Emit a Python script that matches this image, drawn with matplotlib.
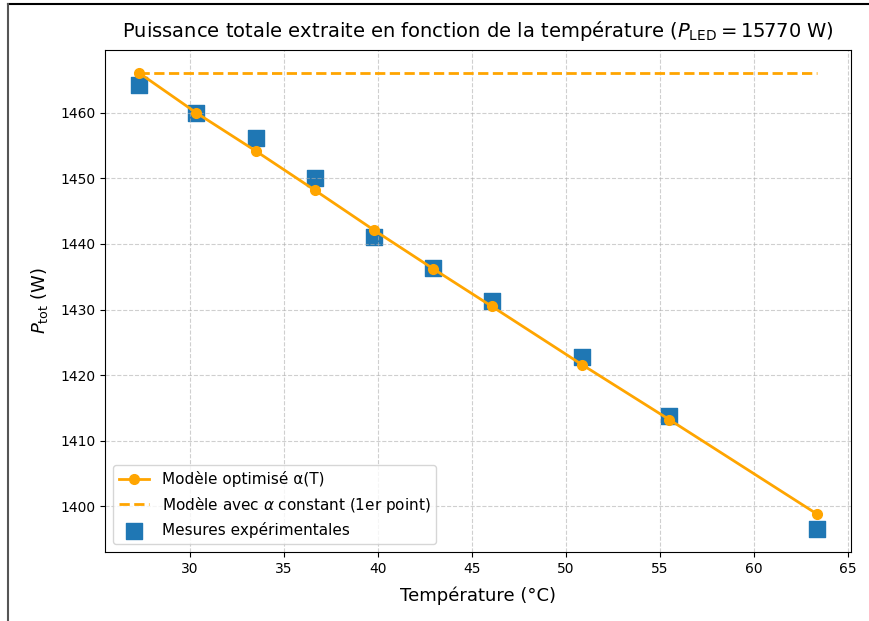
import matplotlib
matplotlib.use("Agg")
import matplotlib.pyplot as plt
from matplotlib.lines import Line2D

temperatures = [27.3, 30.35, 33.5, 36.65, 39.8, 42.95, 46.05, 50.85, 55.5, 63.35]
p_model = [1466.1, 1460.0, 1454.2, 1448.2, 1442.1, 1436.2, 1430.5, 1421.6, 1413.2, 1398.8]
p_measured = [1464.2, 1460.0, 1456.2, 1450.1, 1441.0, 1436.4, 1431.3, 1422.8, 1413.7, 1396.5]
p_constant = 1466.1

fig = plt.figure(figsize=(8.69, 6.21), dpi=100)
ax = fig.add_axes([105/869, 1 - 552/621, (851 - 105)/869, (552 - 50)/621])

ax.scatter(temperatures, p_measured, marker='s', s=135, color='#1f77b4',
           label='Mesures expérimentales', zorder=1)
ax.plot(temperatures, p_model, color='orange', lw=2, marker='o', markersize=7,
        label='Modèle optimisé α(T)', zorder=2)
ax.plot([temperatures[0], temperatures[-1]], [p_constant, p_constant], color='orange',
        lw=2, ls='--', label=r'Modèle avec $\alpha$ constant (1er point)', zorder=2)

ax.set_title(r'Puissance totale extraite en fonction de la température ($P_{\mathrm{LED}} = 15770$ W)',
             fontsize=14, pad=9.5)
ax.set_xlabel('Température (°C)', fontsize=13, labelpad=8)
ax.set_ylabel(r'$P_{\mathrm{tot}}$ (W)', fontsize=13, labelpad=7)
ax.grid(True, ls='--', alpha=0.6)

h, l = ax.get_legend_handles_labels()
order = [1, 2, 0]
ax.legend([h[i] for i in order], [l[i] for i in order], loc='lower left', fontsize=11)

fig.add_artist(Line2D([8/869, 1], [1 - 4/621, 1 - 4/621], color='black', lw=1.5))
fig.add_artist(Line2D([8/869, 8/869], [0, 1 - 4/621], color='#555555', lw=1.5))

fig.savefig('out.png', dpi=100)
